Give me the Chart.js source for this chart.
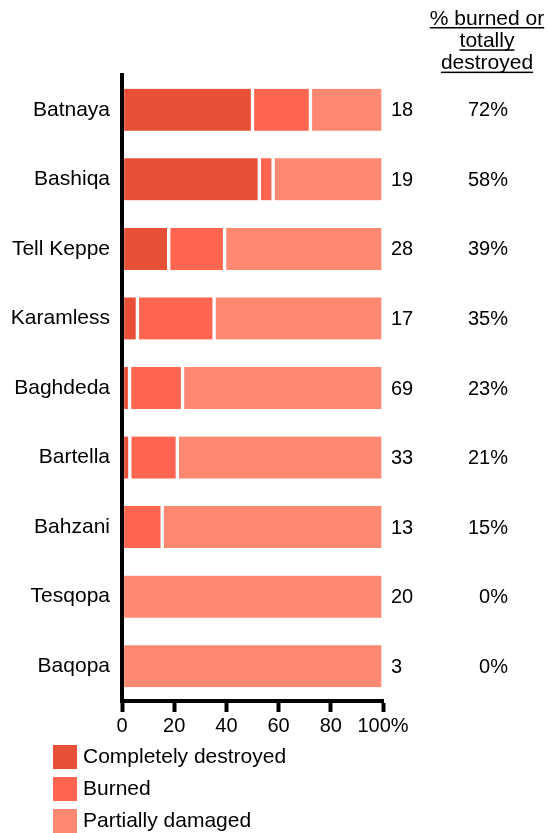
<!DOCTYPE html>
<html>
<head>
<meta charset="utf-8">
<script src="https://cdn.jsdelivr.net/npm/chart.js@4"></script>
<style>
  html, body { margin: 0; padding: 0; background: #fff; }
  #wrap { width: 549px; height: 833px; }
</style>
</head>
<body>
<div id="wrap"><canvas id="chart" width="549" height="833"></canvas></div>
<script>
// towns, and share of houses (%) in each damage class
const towns = ['Batnaya', 'Bashiqa', 'Tell Keppe', 'Karamless', 'Baghdeda', 'Bartella', 'Bahzani', 'Tesqopa', 'Baqopa'];
const destroyed = [50.0, 52.6, 17.9, 5.9, 2.9, 3.0, 0, 0, 0];
const burned = [22.2, 5.3, 21.4, 29.4, 20.3, 18.2, 15.4, 0, 0];
const partial = [27.8, 42.1, 60.7, 64.7, 76.8, 78.8, 84.6, 100, 100];
// number of houses surveyed per town (right column)
const houses = [18, 19, 28, 17, 69, 33, 13, 20, 3];
const xTicks = [0, 20, 40, 60, 80, 100];
const headerLines = ['% burned or', 'totally', 'destroyed'];

const FONT = '"Liberation Sans", Arial, sans-serif';
const COLORS = ['#e84f37', '#ff6550', '#ff8872'];

Chart.defaults.font.family = FONT;
Chart.defaults.color = '#000';

// texts outside the plot: counts, percentages, header and legend
const extraText = {
  id: 'extraText',
  afterDraw(chart) {
    const { ctx, scales: { x, y } } = chart;
    ctx.save();
    ctx.font = '20px ' + FONT;
    ctx.fillStyle = '#000';
    ctx.textBaseline = 'middle';

    const countX = x.getPixelForValue(100) + 8;
    const pctX = x.right + 125;
    towns.forEach((t, i) => {
      const yy = y.getPixelForValue(i) + 1;
      ctx.textAlign = 'left';
      ctx.fillText(String(houses[i]), countX, yy);
      ctx.textAlign = 'right';
      ctx.fillText(Math.round(destroyed[i] + burned[i]) + '%', pctX, yy);
    });

    // underlined header
    ctx.font = '21px ' + FONT;
    ctx.textAlign = 'center';
    ctx.textBaseline = 'alphabetic';
    const hx = x.right + 104;
    headerLines.forEach((line, i) => {
      const by = 24.5 + i * 22.3;
      ctx.fillText(line, hx, by);
      const w = ctx.measureText(line).width;
      ctx.fillRect(hx - w / 2, by + 2.5, w, 1.5);
    });

    // legend
    ctx.textAlign = 'left';
    ctx.textBaseline = 'middle';
    chart.data.datasets.forEach((ds, i) => {
      const top = 745 + i * 32;
      ctx.fillStyle = ds.backgroundColor;
      ctx.fillRect(53, top, 24, 24);
      ctx.fillStyle = '#000';
      ctx.fillText(ds.label, 83, top + 12);
    });
    ctx.restore();
  }
};

new Chart(document.getElementById('chart'), {
  type: 'bar',
  data: {
    labels: towns,
    datasets: [
      { label: 'Completely destroyed', data: destroyed, backgroundColor: COLORS[0] },
      { label: 'Burned', data: burned, backgroundColor: COLORS[1] },
      { label: 'Partially damaged', data: partial, backgroundColor: COLORS[2] }
    ]
  },
  options: {
    indexAxis: 'y',
    responsive: false,
    animation: false,
    layout: { padding: { top: 75, right: 166, left: 0, bottom: 0 } },
    datasets: {
      bar: {
        barThickness: 42,
        borderColor: '#fff',
        borderWidth: { left: 2, right: 2, top: 0, bottom: 0 },
        borderSkipped: false
      }
    },
    plugins: {
      legend: { display: false },
      tooltip: { enabled: false }
    },
    scales: {
      x: {
        stacked: true,
        min: 0,
        max: 100,
        afterFit: s => { s.height = 132; },
        afterBuildTicks: s => { s.ticks = xTicks.map(v => ({ value: v })); },
        ticks: {
          font: { size: 20 },
          color: '#000',
          padding: 2,
          autoSkip: false,
          maxRotation: 0,
          callback: v => (v === 100 ? '100%' : String(v))
        },
        grid: {
          drawOnChartArea: false,
          drawTicks: true,
          tickLength: 11,
          tickWidth: 4,
          tickColor: '#000',
          z: 1
        },
        border: { display: true, width: 4, color: '#000', z: 1 }
      },
      y: {
        stacked: true,
        afterFit: s => { s.width = 122; },
        ticks: { font: { size: 21 }, color: '#000', padding: 12 },
        grid: { drawOnChartArea: false, drawTicks: false },
        border: { display: true, width: 4, color: '#000', z: 1 }
      }
    }
  },
  plugins: [extraText]
});
</script>
</body>
</html>
